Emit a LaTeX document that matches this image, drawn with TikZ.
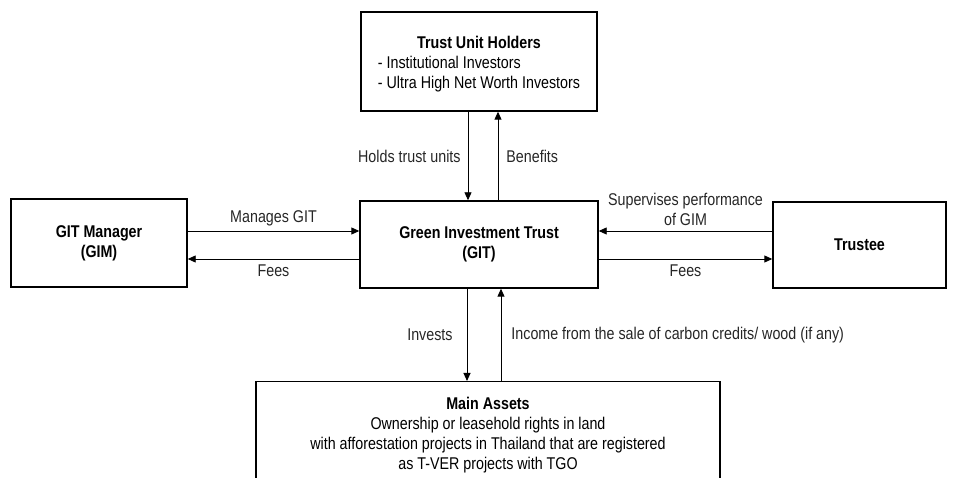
\documentclass[tikz,border=0pt]{standalone}
\usepackage{fontspec}
\setmainfont[FakeStretch=0.84]{Liberation Sans}
\usetikzlibrary{arrows.meta,calc}
\begin{document}
\begin{tikzpicture}[x=1pt,y=1pt,
  box/.style={draw=black,line width=1.4pt,fill=white,align=center,inner sep=0pt,
              font=\fontsize{17}{20}\selectfont},
  arr/.style={line width=0.9pt,-{Triangle[length=8pt,width=7pt]}},
  lbl/.style={font=\fontsize{17}{20}\selectfont,text=black!85,inner sep=2pt,align=center}]
\useasboundingbox (0,0) rectangle (953,478);
\clip (0,0) rectangle (953,478);

% parties
\node[box,minimum width=236pt,minimum height=99pt] (tuh) at (479,416.5) {};
\node[lbl,text=black] (tuhtext) at ([yshift=-3pt]tuh.center)
  {\begin{tabular}{@{}l@{}}\multicolumn{1}{c}{\bfseries Trust Unit Holders}\\
   - Institutional Investors\\- Ultra High Net Worth Investors\end{tabular}};
\node[box,minimum width=176pt,minimum height=88pt] (gim) at (99,235)
  {\bfseries GIT Manager\\\bfseries (GIM)};
\node[box,minimum width=238pt,minimum height=87pt] (git) at (479,233.5)
  {\bfseries Green Investment Trust\\\bfseries (GIT)};
\node[box,minimum width=173pt,minimum height=86pt] (trustee) at (859.5,233)
  {\bfseries Trustee};
\node[box,minimum width=464pt,minimum height=200pt,anchor=north] (assets) at (488,97)
  {};
\node[lbl,text=black] (assetstext) at ([yshift=-54pt]assets.north)
  {{\bfseries Main Assets}\\Ownership or leasehold rights in land\\
   with afforestation projects in Thailand that are registered\\as T-VER projects with TGO};

% flows between the trust and the unit holders
\draw[arr] ([xshift=-11pt]tuh.south) -- node[lbl,left=5pt] {Holds trust units}
  ([xshift=-11pt]tuh.south |- git.north);
\draw[arr] ([xshift=19pt]tuh.south |- git.north) -- node[lbl,right=6pt] {Benefits}
  ([xshift=19pt]tuh.south);

% flows with the manager
\draw[arr] ([yshift=12pt]gim.east) -- node[lbl,above=3pt] {Manages GIT}
  ([yshift=12pt]gim.east -| git.west);
\draw[arr] ([yshift=-16pt]gim.east -| git.west) -- node[lbl,below=3pt] {Fees}
  ([yshift=-16pt]gim.east);

% flows with the trustee
\draw[arr] ([yshift=12pt]gim.east -| trustee.west) -- node[lbl,above=3pt]
  {Supervises performance\\of GIM} ([yshift=12pt]gim.east -| git.east);
\draw[arr] ([yshift=-16pt]gim.east -| git.east) -- node[lbl,below=3pt] {Fees}
  ([yshift=-16pt]gim.east -| trustee.west);

% flows with the main assets
\draw[arr] ([xshift=-12pt]git.south) -- node[lbl,left=12pt] {Invests}
  ([xshift=-12pt]git.south |- assets.north);
\draw[arr] ([xshift=22pt]git.south |- assets.north) -- node[lbl,right=8pt]
  {Income from the sale of carbon credits/ wood (if any)} ([xshift=22pt]git.south);
\end{tikzpicture}
\end{document}
